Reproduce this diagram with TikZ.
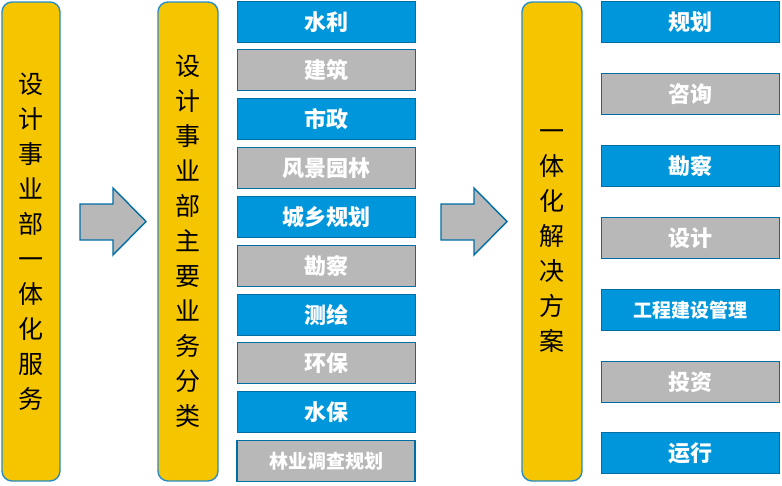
\documentclass[tikz,border=0pt]{standalone}
\usepackage{fontspec}
\setmainfont{Noto Sans CJK SC}
\usepackage{xcolor}
\usepackage{tikz}
\usetikzlibrary{positioning,calc}

\definecolor{barfill}{RGB}{245,197,0}
\definecolor{barline}{RGB}{40,140,200}
\definecolor{bluefill}{RGB}{0,150,220}
\definecolor{boxline}{RGB}{0,110,165}
\definecolor{grayfill}{RGB}{184,184,184}

\begin{document}
\begin{tikzpicture}[
  x=1pt, y=-1pt,
  bar/.style={draw=barline, line width=1.4pt, fill=barfill, rounded corners=10pt,
              minimum width=58pt, minimum height=479pt, inner sep=0pt,
              align=center, font=\fontsize{25}{35}\selectfont},
  item/.style={draw=boxline, line width=1.8pt, minimum width=178pt,
               minimum height=41pt, inner sep=0pt, text=white,
               font=\fontsize{22}{26}\selectfont\bfseries},
  itemblue/.style={item, fill=bluefill},
  itemgray/.style={item, fill=grayfill},
  small/.style={font=\fontsize{19}{22}\selectfont\bfseries},
  bigarrow/.style={draw=boxline, line width=1.4pt, fill=grayfill},
]
\useasboundingbox (0,0) rectangle (782,485);

% left bar
\node[bar] (S1) at (31,241.5) {设\\计\\事\\业\\部\\一\\体\\化\\服\\务};

% first arrow
\draw[bigarrow] (80,204) -- (113,204) -- (113,188) -- (146,221.5)
  -- (113,255) -- (113,240) -- (80,240) -- cycle;

% business classes
\node[bar, minimum width=60pt] (S2) at (188,241.5) {设\\计\\事\\业\\部\\主\\要\\业\\务\\分\\类};

\node[itemblue] (B1) at (326.5,22) {水利};
\node[itemgray] (B2) at (326.5,70) {建筑};
\node[itemblue] (B3) at (326.5,119) {市政};
\node[itemgray] (B4) at (326.5,168) {风景园林};
\node[itemblue] (B5) at (326.5,217) {城乡规划};
\node[itemgray] (B6) at (326.5,266) {勘察};
\node[itemblue] (B7) at (326.5,315) {测绘};
\node[itemgray] (B8) at (326.5,363) {环保};
\node[itemblue] (B9) at (326.5,412) {水保};
\node[itemgray, small] (B10) at (326,461) {林业调查规划};

% second arrow
\draw[bigarrow] (441,204) -- (474,204) -- (474,188) -- (507,221.5)
  -- (474,255) -- (474,240) -- (441,240) -- cycle;

% solutions
\node[bar, minimum width=60pt] (S3) at (552,241.5) {一\\体\\化\\解\\决\\方\\案};

\node[itemblue] (C1) at (690.5,22) {规划};
\node[itemgray] (C2) at (690.5,94) {咨询};
\node[itemblue] (C3) at (690.5,166) {勘察};
\node[itemgray] (C4) at (690.5,238) {设计};
\node[itemblue, small] (C5) at (690.5,310) {工程建设管理};
\node[itemgray] (C6) at (690.5,382) {投资};
\node[itemblue] (C7) at (690.5,453) {运行};
\end{tikzpicture}
\end{document}
